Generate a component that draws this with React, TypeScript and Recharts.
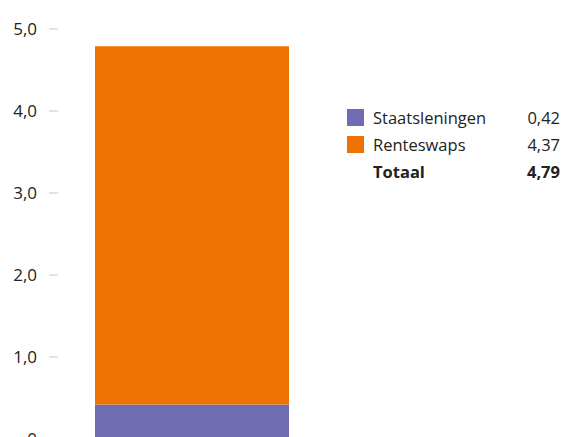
import React from 'react';
import { BarChart, Bar, XAxis, YAxis, Legend } from 'recharts';

const categories = ['Totaal'];
const seriesNames = ['Staatsleningen', 'Renteswaps'];
const staatsleningen = [0.42];
const renteswaps = [4.37];
const totalLabel = 'Totaal';
const totalValues = [4.79];
const yTicks = [0, 1, 2, 3, 4, 5];
const colors = ['#6F6CAF', '#EE7203'];

const seriesValues = [staatsleningen, renteswaps];

const data = categories.map((c, i) => {
  const row: Record<string, any> = { name: c };
  seriesNames.forEach((s, j) => {
    row[s] = seriesValues[j][i];
  });
  return row;
});

const fmt1 = (v: number) => (v === 0 ? '0' : v.toFixed(1).replace('.', ','));
const fmt2 = (v: number) => v.toFixed(2).replace('.', ',');

const FONT = '"Open Sans", sans-serif';

const LegendContent = () => (
  <div style={{ fontFamily: FONT, fontSize: 16.5, color: '#222', width: 213 }}>
    {seriesNames.map((s, j) => (
      <div key={s} style={{ display: 'flex', alignItems: 'center', height: 27 }}>
        <div style={{ width: 17, height: 17, background: colors[j], marginRight: 9 }} />
        <div style={{ flex: 1 }}>{s}</div>
        <div style={{ textAlign: 'right' }}>{fmt2(seriesValues[j][0])}</div>
      </div>
    ))}
    <div style={{ display: 'flex', alignItems: 'center', height: 27, fontWeight: 700 }}>
      <div style={{ width: 17, marginRight: 9 }} />
      <div style={{ flex: 1 }}>{totalLabel}</div>
      <div style={{ textAlign: 'right' }}>{fmt2(totalValues[0])}</div>
    </div>
  </div>
);

export default function App() {
  return (
    <div style={{ position: 'absolute', left: 0, top: 0, background: '#fff' }}>
      <BarChart
        width={563}
        height={460}
        data={data}
        margin={{ top: 29, right: 237, bottom: 21, left: 0 }}
      >
        <XAxis dataKey="name" hide />
        <YAxis
          width={58}
          domain={[0, 5]}
          ticks={yTicks}
          interval={0}
          axisLine={false}
          tickLine={{ stroke: '#c8c8c8' }}
          tickSize={9}
          tickMargin={12}
          tick={{ fill: '#222', fontSize: 17, fontFamily: FONT }}
          tickFormatter={fmt1}
        />
        <Legend
          layout="vertical"
          align="center"
          verticalAlign="middle"
          content={<LegendContent />}
          wrapperStyle={{ left: 347, top: 104, width: 213, right: 'auto', bottom: 'auto' }}
        />
        {seriesNames.map((s, j) => (
          <Bar
            key={s}
            dataKey={s}
            stackId="a"
            fill={colors[j]}
            barSize={194}
            isAnimationActive={false}
          />
        ))}
      </BarChart>
    </div>
  );
}
